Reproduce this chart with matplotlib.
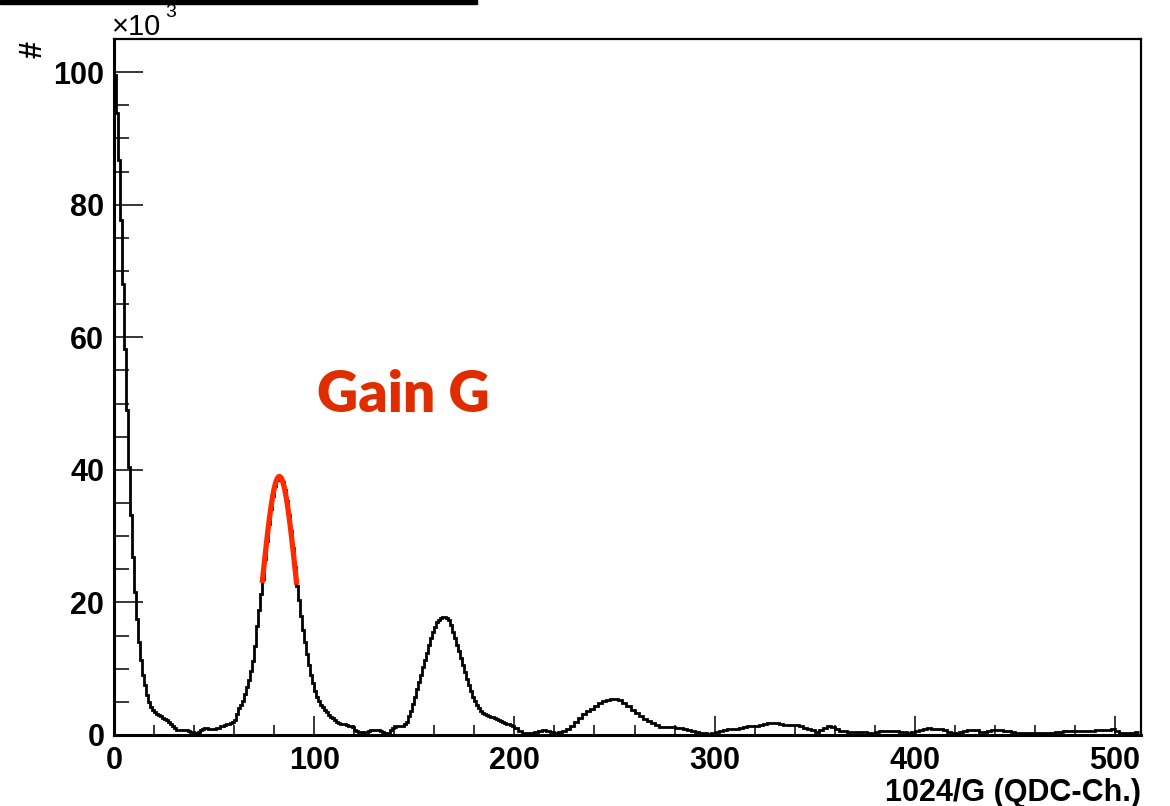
import numpy as np
import matplotlib.pyplot as plt
from matplotlib.patches import Rectangle

# contenidos del histograma QDC (en unidades de 10^3)
# canales 0..199, ancho 1
counts_fine = [
    99.5, 93.8, 86.7, 77.7, 68.1, 58.3, 49.0, 40.4, 33.2, 26.9,
    21.6, 17.5, 14.0, 11.3, 9.0, 7.5, 6.0, 5.0, 4.2, 3.8,
    3.4, 3.2, 3.0, 2.8, 2.6, 2.4, 2.2, 1.9, 1.6, 1.3,
    1.0, 0.8, 0.75, 0.75, 0.8, 0.75, 0.7, 0.6, 0.5, 0.4,
    0.3, 0.3, 0.5, 0.8, 0.9, 1.0, 1.0, 0.9, 0.9, 0.9,
    0.9, 1.0, 1.1, 1.3, 1.4, 1.5, 1.6, 1.7, 1.8, 2.0,
    2.3, 3.1, 4.0, 4.6, 5.2, 6.2, 7.3, 8.3, 9.6, 11.2,
    13.5, 16.5, 18.8, 21.2, 23.5, 26.5, 29.2, 31.8, 34.1, 36.0,
    37.5, 38.5, 38.9, 38.8, 38.2, 37.0, 35.3, 33.2, 30.8, 28.2,
    25.4, 22.5, 20.4, 18.0, 15.8, 14.0, 12.2, 10.5, 9.0, 7.8,
    6.6, 5.8, 5.1, 4.6, 4.2, 3.8, 3.4, 3.0, 2.7, 2.5,
    2.2, 2.0, 1.8, 1.7, 1.7, 1.6, 1.5, 1.4, 1.3, 1.2,
    0.8, 0.55, 0.45, 0.4, 0.35, 0.4, 0.5, 0.6, 0.7, 0.75,
    0.8, 0.8, 0.7, 0.55, 0.4, 0.3, 0.25, 0.35, 0.7, 1.1,
    1.25, 1.3, 1.35, 1.35, 1.4, 1.6, 2.0, 2.8, 3.6, 4.7,
    5.8, 6.9, 8.0, 9.1, 10.2, 11.3, 12.4, 13.6, 14.6, 15.5,
    16.3, 17.0, 17.4, 17.7, 17.85, 17.85, 17.7, 17.3, 16.6, 15.6,
    14.6, 13.6, 12.6, 11.6, 10.5, 9.5, 8.5, 7.5, 6.6, 5.8,
    5.1, 4.5, 4.0, 3.6, 3.3, 3.1, 2.95, 2.85, 2.75, 2.65,
    2.5, 2.35, 2.2, 2.05, 1.9, 1.8, 1.7, 1.6, 1.5, 1.4,
]
# canales 200..512, ancho 2
counts_coarse = [
    1.0, 0.6, 0.3, 0.25, 0.3, 0.4, 0.6, 0.8, 0.55, 0.4,
    0.35, 0.45, 0.6, 0.9, 1.3, 1.9, 2.5, 3.1, 3.6, 3.9,
    4.3, 4.8, 5.2, 5.35, 5.4, 5.4, 5.3, 4.8, 4.3, 3.8,
    3.3, 2.8, 2.45, 2.1, 1.75, 1.45, 1.2, 1.15, 1.2, 1.25,
    1.1, 1.0, 0.9, 0.75, 0.6, 0.5, 0.35, 0.25, 0.2, 0.3,
    0.45, 0.65, 0.8, 0.85, 0.9, 0.95, 1.05, 1.2, 1.3, 1.35,
    1.4, 1.55, 1.7, 1.85, 1.85, 1.75, 1.65, 1.55, 1.5, 1.5,
    1.5, 1.35, 1.1, 0.95, 0.7, 0.5, 0.7, 1.0, 1.3, 1.25,
    0.9, 0.65, 0.55, 0.5, 0.5, 0.5, 0.45, 0.45, 0.35, 0.25,
    0.4, 0.6, 0.65, 0.65, 0.65, 0.55, 0.45, 0.4, 0.35, 0.45,
    0.6, 0.75, 0.9, 1.0, 0.95, 0.9, 0.85, 0.7, 0.5, 0.35,
    0.35, 0.4, 0.55, 0.7, 0.75, 0.7, 0.5, 0.45, 0.6, 0.75,
    0.75, 0.7, 0.65, 0.6, 0.45, 0.3, 0.25, 0.25, 0.25, 0.25,
    0.25, 0.25, 0.3, 0.3, 0.35, 0.45, 0.5, 0.55, 0.6, 0.65,
    0.65, 0.6, 0.55, 0.6, 0.65, 0.7, 0.7, 0.75, 0.8, 0.85,
    0.6, 0.35, 0.3, 0.25, 0.35, 0.5,
]
counts = np.array(counts_fine + counts_coarse)
edges = np.concatenate([np.arange(0, 201), np.arange(202, 513, 2)])

# ajuste gaussiano del primer pico (ganancia)
fit_amp, fit_mean, fit_sigma = 39.0, 82.6, 8.35
fit_range = (74.0, 91.3)

x_ticks = [0, 100, 200, 300, 400, 500]
y_ticks = [0, 20, 40, 60, 80, 100]

fig = plt.figure(figsize=(11.7, 8.06), dpi=100)
ax = fig.add_axes([114/1170, 71/806, 1027/1170, 696/806])

ax.stairs(counts, edges, baseline=None, color='black', lw=2.0)

xf = np.linspace(fit_range[0], fit_range[1], 200)
yf = fit_amp * np.exp(-0.5 * ((xf - fit_mean) / fit_sigma) ** 2)
ax.plot(xf, yf, color='#ff2a00', lw=3.8, solid_capstyle='butt')

ax.set_xlim(0, 513)
ax.set_ylim(0, 105)

lab = dict(family='Liberation Sans', weight='bold', size=22)
ax.set_xticks(x_ticks)
ax.set_xticks(np.arange(0, 513, 20), minor=True)
ax.set_yticks(y_ticks)
ax.set_yticks(np.arange(0, 106, 5), minor=True)
ax.set_xticklabels([str(v) for v in x_ticks], fontdict=lab)
ax.set_yticklabels([str(v) for v in y_ticks], fontdict=lab)
ax.tick_params(axis='x', which='major', direction='in', length=14, width=1.1, pad=8)
ax.tick_params(axis='x', which='minor', direction='in', length=7, width=1.1)
ax.tick_params(axis='y', which='major', direction='in', length=21, width=1.1, pad=7)
ax.tick_params(axis='y', which='minor', direction='in', length=10.5, width=1.1)

for s in ['left', 'bottom']:
    ax.spines[s].set_linewidth(2.2)
for s in ['top', 'right']:
    ax.spines[s].set_linewidth(1.6)

ax.text(1.0, -0.062, '1024/G (QDC-Ch.)', transform=ax.transAxes,
        ha='right', va='top', **lab)
fig.text(34/1170, 1 - 50/806, '#', rotation=90, ha='center', va='center', **lab)
fig.text(112/1170, 1 - 35/806, '\u00d710', family='Liberation Sans', size=21,
         ha='left', va='baseline')
fig.text(165/1170, 1 - 17/806, '3', family='Liberation Sans', size=14,
         ha='left', va='baseline')

ax.text(101.5, 48.7, 'Gain G', color='#e02d00', size=41, weight='heavy',
        family=['Lato', 'DejaVu Sans'], ha='left', va='baseline')

# borde del recuadro superior (cortado)
fig.patches.append(Rectangle((0, 1 - 4/806), 477/1170, 4/806,
                             transform=fig.transFigure, color='black'))

fig.savefig('out.png', dpi=100)
